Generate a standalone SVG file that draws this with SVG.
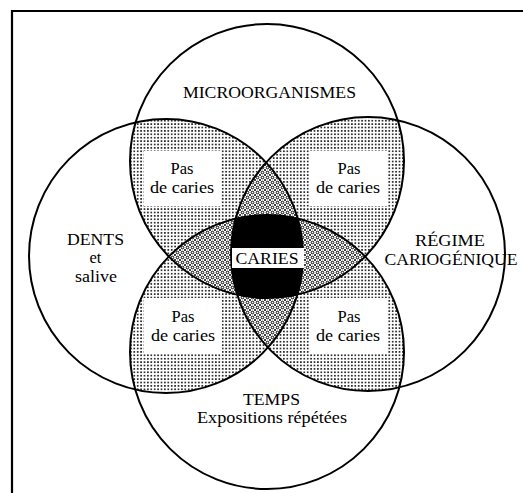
<svg xmlns="http://www.w3.org/2000/svg" width="523" height="493" viewBox="0 0 523 493">
<style>
.o{fill:none;stroke:#000;stroke-width:2}
.t{font-family:"Liberation Serif","Times New Roman",serif;font-size:16.5px;fill:#000;text-anchor:middle}
.box{fill:#fff}
.d2{fill:url(#p2)}
.d3{fill:url(#p3)}
</style>
<defs>
<pattern id="p2" width="3.4" height="3.4" patternUnits="userSpaceOnUse">
<rect width="3.4" height="3.4" fill="#fff"/>
<circle cx="1.7" cy="1.7" r="0.95" fill="#000"/>
</pattern>
<pattern id="p3" width="5" height="5" patternUnits="userSpaceOnUse">
<rect width="5" height="5" fill="#fff"/>
<circle cx="2.5" cy="2.5" r="1.3" fill="none" stroke="#000" stroke-width="1"/>
<circle cx="0" cy="0" r="1" fill="#000"/>
<circle cx="5" cy="0" r="1" fill="#000"/>
<circle cx="0" cy="5" r="1" fill="#000"/>
<circle cx="5" cy="5" r="1" fill="#000"/>
</pattern>
<clipPath id="cT"><circle cx="267" cy="161" r="137"/></clipPath>
<clipPath id="cB"><circle cx="267" cy="352" r="137"/></clipPath>
<clipPath id="cL"><circle cx="166" cy="256" r="137"/></clipPath>
<clipPath id="cR"><circle cx="368" cy="254" r="137"/></clipPath>
</defs>
<rect width="523" height="493" fill="#fff"/>
<g id="frame">
<line x1="11" y1="11" x2="523" y2="11" stroke="#000" stroke-width="2.2"/>
<line x1="12" y1="10" x2="12" y2="493" stroke="#000" stroke-width="2.2"/>
</g>
<g id="regions">
<g clip-path="url(#cT)"><circle cx="166" cy="256" r="137" class="d2"/><circle cx="368" cy="254" r="137" class="d2"/></g>
<g clip-path="url(#cB)"><circle cx="166" cy="256" r="137" class="d2"/><circle cx="368" cy="254" r="137" class="d2"/></g>
<g clip-path="url(#cL)"><g clip-path="url(#cR)"><circle cx="267" cy="161" r="137" class="d3"/><circle cx="267" cy="352" r="137" class="d3"/></g></g>
<g clip-path="url(#cT)"><g clip-path="url(#cB)"><circle cx="166" cy="256" r="137" class="d3"/><circle cx="368" cy="254" r="137" class="d3"/></g></g>
<g clip-path="url(#cT)"><g clip-path="url(#cB)"><g clip-path="url(#cL)"><circle cx="368" cy="254" r="137" fill="#000"/></g></g></g>
</g>
<g id="connectors"></g>
<g id="microorganismes">
<circle class="o" cx="267" cy="161" r="137"/>
<text class="t" x="269.5" y="98" textLength="173" lengthAdjust="spacingAndGlyphs">MICROORGANISMES</text>
</g>
<g id="dents">
<circle class="o" cx="166" cy="256" r="137"/>
<text class="t" x="95.5" y="245" textLength="57" lengthAdjust="spacingAndGlyphs">DENTS</text>
<text class="t" x="95.5" y="263">et</text>
<text class="t" x="96" y="282" textLength="42" lengthAdjust="spacingAndGlyphs">salive</text>
</g>
<g id="regime">
<circle class="o" cx="368" cy="254" r="137"/>
<text class="t" x="450" y="246" textLength="70" lengthAdjust="spacingAndGlyphs">RÉGIME</text>
<text class="t" x="451" y="265" textLength="133" lengthAdjust="spacingAndGlyphs">CARIOGÉNIQUE</text>
</g>
<g id="temps">
<circle class="o" cx="267" cy="352" r="137"/>
<text class="t" x="271.5" y="405" textLength="57" lengthAdjust="spacingAndGlyphs">TEMPS</text>
<text class="t" x="272" y="423" textLength="150" lengthAdjust="spacingAndGlyphs">Expositions répétées</text>
</g>
<g id="pas-tl">
<rect class="box" x="144" y="151" width="77" height="55"/>
<text class="t" x="182" y="174">Pas</text>
<text class="t" x="182" y="193" textLength="64" lengthAdjust="spacingAndGlyphs">de caries</text>
</g>
<g id="pas-tr">
<rect class="box" x="310" y="151" width="77" height="55"/>
<text class="t" x="349" y="174">Pas</text>
<text class="t" x="348" y="193" textLength="64" lengthAdjust="spacingAndGlyphs">de caries</text>
</g>
<g id="pas-bl">
<rect class="box" x="144" y="298" width="78" height="55"/>
<text class="t" x="183" y="322">Pas</text>
<text class="t" x="183" y="341" textLength="64" lengthAdjust="spacingAndGlyphs">de caries</text>
</g>
<g id="pas-br">
<rect class="box" x="310" y="298" width="77" height="55"/>
<text class="t" x="349" y="322">Pas</text>
<text class="t" x="348" y="341" textLength="64" lengthAdjust="spacingAndGlyphs">de caries</text>
</g>
<g id="caries">
<rect class="box" x="232" y="248" width="72" height="20"/>
<text class="t" x="267" y="264" textLength="63" lengthAdjust="spacingAndGlyphs">CARIES</text>
</g>
</svg>
